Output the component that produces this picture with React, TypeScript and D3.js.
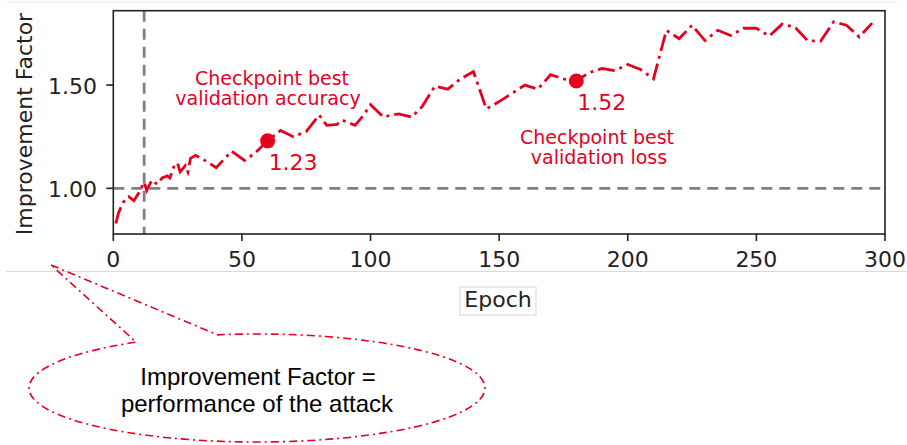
import React from "react";
import * as d3 from "d3";

// improvement factor per evaluated epoch
const epochs = [
  1, 2, 3, 4, 6, 8, 10, 12, 13, 15,
  17, 19, 21, 22, 24, 25, 26, 28, 29, 30,
  32, 35, 40, 43, 46, 51, 55, 60, 65, 70,
  75, 80, 83, 87, 89, 94, 97, 100, 105, 108,
  111, 116, 120, 125, 130, 135, 140, 145, 150, 155,
  160, 165, 170, 175, 180, 185, 190, 195, 200, 205,
  210, 215, 220, 225, 230, 235, 240, 245, 250, 255,
  260, 265, 270, 275, 280, 285, 290, 295,
];
const improvement = [
  0.83, 0.88, 0.91, 0.935, 0.96, 0.94, 0.98, 1.03, 0.99, 1.04,
  1.02, 1.05, 1.06, 1.05, 1.12, 1.12, 1.08, 1.11, 1.08, 1.145,
  1.16, 1.14, 1.1, 1.14, 1.18, 1.135, 1.17, 1.23, 1.28, 1.25,
  1.275, 1.355, 1.305, 1.31, 1.33, 1.305, 1.35, 1.405, 1.345, 1.355,
  1.36, 1.345, 1.395, 1.495, 1.48, 1.53, 1.565, 1.385, 1.42, 1.46,
  1.5, 1.48, 1.55, 1.53, 1.52, 1.56, 1.58, 1.57, 1.6, 1.575,
  1.53, 1.765, 1.725, 1.79, 1.715, 1.765, 1.74, 1.775, 1.775, 1.737,
  1.795, 1.78, 1.714, 1.713, 1.806, 1.79, 1.733, 1.8,
];

const checkpointEpochs = [60, 180];
const checkpointValues = [1.23, 1.52];
const checkpointNotes = [
  ["Checkpoint best", "validation accuracy"],
  ["Checkpoint best", "validation loss"],
];

const xTicks = [0, 50, 100, 150, 200, 250, 300];
const yTicks = [1.0, 1.5];
const attackStartEpoch = 12;
const baseline = 1.0;

const RED = "#e6001f";
const MPL = "DejaVu Sans, sans-serif";

export default function App() {
  const W = 907;
  const H = 445;
  const m = { left: 113.3, right: 885, top: 10.7, bottom: 234 };

  const x = d3.scaleLinear().domain([0, 300]).range([m.left, m.right]);
  const y = d3.scaleLinear().domain([0.779, 1.86]).range([m.bottom, m.top]);

  const pts = epochs.map((e, i) => [e, improvement[i]] as [number, number]);
  const line = d3
    .line<[number, number]>()
    .x((d) => x(d[0]))
    .y((d) => y(d[1]));

  // callout ellipse + tail
  const cx = 257, cy = 388, rx = 228, ry = 54;
  const a1 = (-100 * Math.PI) / 180;
  const a2 = (238 * Math.PI) / 180;
  const p1 = [cx + rx * Math.cos(a1), cy + ry * Math.sin(a1)];
  const p2 = [cx + rx * Math.cos(a2), cy + ry * Math.sin(a2)];
  const tip = [51, 265];
  const callout = `M${tip[0]},${tip[1]} L${p1[0]},${p1[1]} A${rx},${ry} 0 1 1 ${p2[0]},${p2[1]} Z`;

  return (
    <svg
      width={W}
      height={H}
      style={{ position: "absolute", left: 0, top: 0, background: "#fff" }}
    >
      <line x1={7} x2={897} y1={2} y2={2} stroke="#e6e6e6" strokeWidth={1} />
      <line x1={6} x2={907} y1={271.5} y2={271.5} stroke="#d9d9d9" strokeWidth={1} />

      {/* reference lines */}
      <line
        x1={m.left}
        x2={m.right}
        y1={y(baseline)}
        y2={y(baseline)}
        stroke="#808080"
        strokeWidth={2.8}
        strokeDasharray="11,7"
      />
      <line
        x1={x(attackStartEpoch)}
        x2={x(attackStartEpoch)}
        y1={m.top}
        y2={m.bottom}
        stroke="#808080"
        strokeWidth={2.8}
        strokeDasharray="11,7"
      />

      <path
        d={line(pts) || ""}
        fill="none"
        stroke={RED}
        strokeWidth={2.8}
        strokeDasharray="17,5,3,5"
      />

      {checkpointEpochs.map((e, i) => (
        <g key={e}>
          <circle cx={x(e)} cy={y(checkpointValues[i])} r={7.5} fill={RED} />
          <text
            x={x(e) + 1}
            y={y(checkpointValues[i]) + 29}
            fontFamily={MPL}
            fontSize={22}
            fill={RED}
          >
            {checkpointValues[i].toFixed(2)}
          </text>
        </g>
      ))}

      {/* notes */}
      <text x={271} y={85} textAnchor="middle" fontFamily={MPL} fontSize={19} fill={RED}>
        <tspan x={272} dy={0}>{checkpointNotes[0][0]}</tspan>
        <tspan x={268} y={105}>{checkpointNotes[0][1]}</tspan>
      </text>
      <text x={598} y={144} textAnchor="middle" fontFamily={MPL} fontSize={19} fill={RED}>
        <tspan x={597} y={144}>{checkpointNotes[1][0]}</tspan>
        <tspan x={599} y={164}>{checkpointNotes[1][1]}</tspan>
      </text>

      {/* frame */}
      <rect
        x={m.left}
        y={m.top}
        width={m.right - m.left}
        height={m.bottom - m.top}
        fill="none"
        stroke="#222"
        strokeWidth={1.6}
      />

      {xTicks.map((t) => (
        <g key={t}>
          <line x1={x(t)} x2={x(t)} y1={m.bottom} y2={m.bottom + 7} stroke="#222" strokeWidth={1.6} />
          <text x={x(t)} y={267} textAnchor="middle" fontFamily={MPL} fontSize={22} fill="#222">
            {t}
          </text>
        </g>
      ))}
      {yTicks.map((t) => (
        <g key={t}>
          <line x1={m.left - 7} x2={m.left} y1={y(t)} y2={y(t)} stroke="#222" strokeWidth={1.6} />
          <text x={97} y={y(t) + 9} textAnchor="end" fontFamily={MPL} fontSize={22} fill="#222">
            {t.toFixed(2)}
          </text>
        </g>
      ))}

      <text
        transform={`translate(32,124) rotate(-90)`}
        textAnchor="middle"
        fontFamily={MPL}
        fontSize={22}
        fill="#222"
      >
        Improvement Factor
      </text>

      <rect x={460} y={287} width={76} height={28} fill="#fff" stroke="#d6d6d6" strokeWidth={1} />
      <text x={498} y={307} textAnchor="middle" fontFamily={MPL} fontSize={22} fill="#222">
        Epoch
      </text>

      <path
        d={callout}
        fill="none"
        stroke={RED}
        strokeWidth={1.6}
        strokeDasharray="8,4,2,4"
      />
      <text x={258} y={385} textAnchor="middle" fontFamily="Liberation Sans, Arial, sans-serif" fontSize={24} fill="#000">
        Improvement Factor =
      </text>
      <text x={257} y={412} textAnchor="middle" fontFamily="Liberation Sans, Arial, sans-serif" fontSize={24} fill="#000">
        performance of the attack
      </text>
    </svg>
  );
}
